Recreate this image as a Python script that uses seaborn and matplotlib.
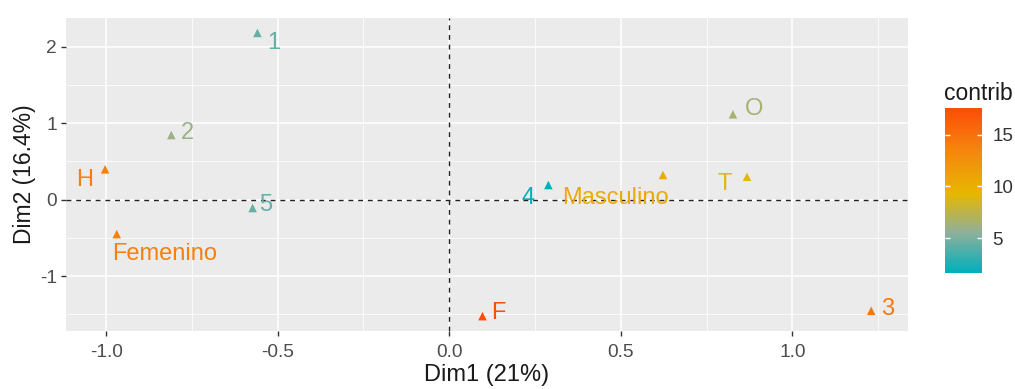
import numpy as np
import pandas as pd
import matplotlib
matplotlib.use("Agg")
import matplotlib.pyplot as plt
import seaborn as sns
from matplotlib.colors import LinearSegmentedColormap, TwoSlopeNorm

# ---- data ----
categories = ["1", "2", "H", "5", "Femenino", "4", "Masculino", "F", "O", "T", "3"]
dim1 = [-0.559, -0.810, -1.003, -0.573, -0.969, 0.289, 0.623, 0.097, 0.827, 0.868, 1.230]
dim2 = [2.18, 0.844, 0.395, -0.111, -0.452, 0.190, 0.321, -1.525, 1.115, 0.298, -1.455]
contrib = [4.3, 6.0, 14.0, 4.3, 14.0, 1.6, 10.5, 17.6, 6.5, 9.0, 14.5]
xticks = [-1.0, -0.5, 0.0, 0.5, 1.0]
yticks = [-1, 0, 1, 2]
cbar_ticks = [5, 10, 15]

# label offsets in points (layout)
label_offsets = [(11.7, -7.4), (11.5, 1.7), (-14.9, -7.7), (9.5, 2.2), (34.3, -14.4),
                 (-14.4, -9.5), (-34.3, -16.5), (11.5, 2.2), (15.3, 3.8), (-16.3, -5.3), (11.5, 1.2)]

df = pd.DataFrame({"cat": categories, "Dim1": dim1, "Dim2": dim2, "contrib": contrib})

sns.set_theme(style="darkgrid", rc={
    "axes.facecolor": "#EBEBEB",
    "grid.color": "white",
})
plt.rcParams["font.family"] = ["Liberation Sans", "DejaVu Sans"]

cmap = LinearSegmentedColormap.from_list(
    "fviz", [(0.0, "#00AFBB"), (0.25, "#8FB09C"), (0.5, "#E7B800"), (0.75, "#F5870F"), (1.0, "#FC4E07")])
vmin, vmax = 1.6, 17.6
norm = TwoSlopeNorm(vmin=vmin, vcenter=float(np.mean(contrib)), vmax=vmax)

fig = plt.figure(figsize=(10.15, 3.89), dpi=100)
ax = fig.add_axes([0.065, 0.149, 0.8295, 0.8047])

ax.set_xlim(-1.117, 1.337)
ax.set_ylim(-1.72, 2.375)
ax.set_xticks(xticks)
ax.set_yticks(yticks)
ax.set_xticks([-0.75, -0.25, 0.25, 0.75, 1.25], minor=True)
ax.set_yticks([-1.5, -0.5, 0.5, 1.5], minor=True)
ax.grid(which="major", color="white", lw=1.1)
ax.grid(which="minor", color="white", lw=0.55)
ax.set_axisbelow(True)

ax.axhline(0, color="#222222", ls=(0, (3.5, 3.5)), lw=1.0, zorder=1)
ax.axvline(0, color="#222222", ls=(0, (3.5, 3.5)), lw=1.0, zorder=1)

sns.scatterplot(data=df, x="Dim1", y="Dim2", hue="contrib", palette=cmap, hue_norm=norm,
                marker="^", s=38, edgecolor="none", legend=False, ax=ax, zorder=3)

for cat, x, y, c, (dx, dy) in zip(categories, dim1, dim2, contrib, label_offsets):
    ax.annotate(cat, (x, y), xytext=(dx, dy), textcoords="offset points",
                ha="center", va="center", fontsize=17, color=cmap(norm(c)), zorder=4)

ax.set_xticklabels(["-1.0", "-0.5", "0.0", "0.5", "1.0"])
ax.set_yticklabels(["-1", "0", "1", "2"])
ax.tick_params(axis="x", which="major", pad=6)
ax.tick_params(axis="y", which="major", pad=3)
ax.tick_params(axis="both", which="major", length=3.5, width=1, color="#333333",
               labelsize=13.8, labelcolor="#4D4D4D",
               bottom=True, left=True)
ax.tick_params(axis="both", which="minor", length=0)
ax.set_xlabel("Dim1 (21%)", fontsize=17, color="#1A1A1A", labelpad=2)
ax.set_ylabel("Dim2 (16.4%)", fontsize=16.5, color="#1A1A1A", labelpad=3)
for s in ax.spines.values():
    s.set_visible(False)

# colorbar
cax = fig.add_axes([0.931, 0.298, 0.036, 0.424])
vals = np.linspace(vmin, vmax, 256)
cax.imshow(cmap(norm(vals))[:, None, :], aspect="auto", origin="lower",
           extent=[0, 1, vmin, vmax])
cax.set_xlim(0, 1)
cax.set_ylim(vmin, vmax)
cax.set_xticks([])
cax.set_yticks(cbar_ticks)
cax.yaxis.tick_right()
cax.tick_params(axis="y", which="both", left=True, right=True, direction="in",
                length=3.5, width=1, color="white", labelsize=13.5,
                labelcolor="#333333", pad=8)
cax.grid(False)
for s in cax.spines.values():
    s.set_visible(False)
cax.set_title("contrib", fontsize=16.5, color="#1A1A1A", loc="left", pad=6, x=-0.02)

fig.savefig("out.png", dpi=100, facecolor="white")
